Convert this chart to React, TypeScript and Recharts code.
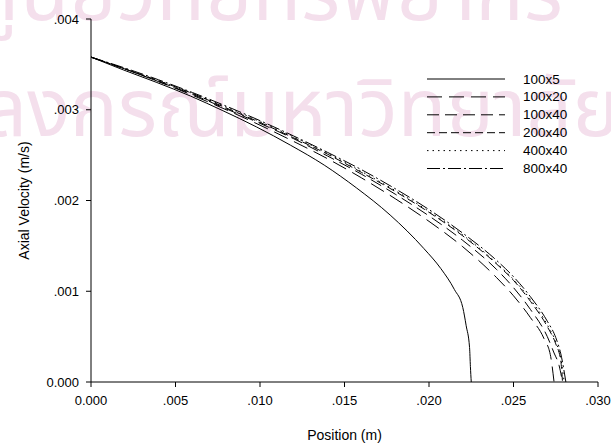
import * as React from "react";
import { LineChart, Line, XAxis, YAxis, Legend } from "recharts";

// grid names, as in the legend
const meshNames = ["100x5", "100x20", "100x40", "200x40", "400x40", "800x40"];

// position (m) and axial velocity (m/s) per mesh
const x100x5 = [0, 0.0019, 0.0039, 0.0059, 0.0078, 0.0098, 0.0118, 0.0138, 0.0157, 0.0177, 0.0197, 0.0207, 0.0215, 0.022, 0.0222, 0.0224, 0.02245, 0.0225];
const v100x5 = [0.00358, 0.00344, 0.0033, 0.00315, 0.00299, 0.00281, 0.00261, 0.00239, 0.00214, 0.00184, 0.00147, 0.00125, 0.00102, 0.00082, 0.00062, 0.00038, 0.00017, 0];

const x100x20 = [0, 0.002, 0.004, 0.006, 0.008, 0.01, 0.012, 0.014, 0.016, 0.018, 0.02, 0.022, 0.024, 0.025, 0.026, 0.0268, 0.0272, 0.0274];
const v100x20 = [0.00358, 0.00345, 0.00331, 0.00316, 0.003, 0.00283, 0.00265, 0.00246, 0.00225, 0.00202, 0.00177, 0.00149, 0.00115, 0.00095, 0.00071, 0.00048, 0.00028, 0];

const x100x40 = [0, 0.002, 0.004, 0.006, 0.008, 0.01, 0.012, 0.014, 0.016, 0.018, 0.02, 0.022, 0.024, 0.025, 0.026, 0.027, 0.0274, 0.0277, 0.0279];
const v100x40 = [0.00358, 0.00345, 0.00331, 0.00317, 0.00301, 0.00285, 0.00268, 0.00249, 0.00229, 0.00207, 0.00183, 0.00156, 0.00124, 0.00104, 0.0008, 0.0005, 0.00032, 0.00018, 0];

const x200x40 = [0, 0.002, 0.004, 0.006, 0.008, 0.01, 0.012, 0.014, 0.016, 0.018, 0.02, 0.022, 0.024, 0.025, 0.026, 0.027, 0.0275, 0.0278, 0.0279];
const v200x40 = [0.00358, 0.00345, 0.00332, 0.00318, 0.00302, 0.00286, 0.00269, 0.00251, 0.00231, 0.0021, 0.00187, 0.00161, 0.0013, 0.00112, 0.00089, 0.00061, 0.00042, 0.00023, 0];

const x400x40 = [0, 0.002, 0.004, 0.006, 0.008, 0.01, 0.012, 0.014, 0.016, 0.018, 0.02, 0.022, 0.024, 0.025, 0.026, 0.027, 0.0275, 0.0278, 0.028];
const v400x40 = [0.00358, 0.00345, 0.00332, 0.00318, 0.00303, 0.00287, 0.0027, 0.00252, 0.00232, 0.00211, 0.00188, 0.00162, 0.00131, 0.00113, 0.00091, 0.00063, 0.00044, 0.00026, 0];

const x800x40 = [0, 0.002, 0.004, 0.006, 0.008, 0.01, 0.012, 0.014, 0.016, 0.018, 0.02, 0.022, 0.024, 0.025, 0.026, 0.027, 0.0275, 0.0278, 0.0281];
const v800x40 = [0.00358, 0.00346, 0.00333, 0.00319, 0.00304, 0.00288, 0.00271, 0.00253, 0.00234, 0.00213, 0.0019, 0.00164, 0.00134, 0.00116, 0.00094, 0.00067, 0.00049, 0.00031, 0];

const xTicks = [0, 0.005, 0.01, 0.015, 0.02, 0.025, 0.03];
const yTicks = [0, 0.001, 0.002, 0.003, 0.004];

const font = "'Liberation Sans', Arial, sans-serif";

const toRows = (xs: number[], vs: number[]) => xs.map((x, i) => ({ x, v: vs[i] }));

const series = [
  { name: meshNames[0], data: toRows(x100x5, v100x5), dash: undefined },
  { name: meshNames[1], data: toRows(x100x20, v100x20), dash: "15 7" },
  { name: meshNames[2], data: toRows(x100x40, v100x40), dash: "12 6" },
  { name: meshNames[3], data: toRows(x200x40, v200x40), dash: "8 4" },
  { name: meshNames[4], data: toRows(x400x40, v400x40), dash: "1.5 4" },
  { name: meshNames[5], data: toRows(x800x40, v800x40), dash: "13 3 2 3" },
];

const fmt = (v: number) => (v === 0 ? "0.000" : v.toFixed(3).replace(/^0/, ""));

function YLabel({ viewBox }: any) {
  const cy = viewBox ? viewBox.y + viewBox.height / 2 : 200;
  return (
    <text
      x={24}
      y={cy}
      transform={`rotate(-90 24 ${cy})`}
      textAnchor="middle"
      dominantBaseline="central"
      fontSize={14}
      fontFamily={font}
      fill="#000"
    >
      Axial Velocity (m/s)
    </text>
  );
}

function MeshLegend() {
  return (
    <svg width={160} height={110}>
      {series.map((s, i) => (
        <g key={s.name}>
          <line x1={0} x2={78} y1={9 + i * 17.9} y2={9 + i * 17.9} stroke="#000" strokeWidth={1} strokeDasharray={s.dash} />
          <text x={96} y={9 + i * 17.9} dominantBaseline="central" fontSize={13.5} fontFamily={font} fill="#000">
            {s.name}
          </text>
        </g>
      ))}
    </svg>
  );
}

export default function App() {
  return (
    <div style={{ position: "absolute", left: 0, top: 0, width: 611, height: 445, background: "#fff", overflow: "hidden" }}>
      {/* faint library watermark behind the chart */}
      <svg width={611} height={445} style={{ position: "absolute", left: 0, top: 0 }}>
        <g fill="#f4dfec" fontFamily="'Noto Sans Thai', 'DejaVu Sans', sans-serif" fontSize={80}>
          <text x={-30} y={20}>ศูนย์วิทยทรัพยากร</text>
          <text x={-147} y={136}>จุฬาลงกรณ์มหาวิทยาลัย</text>
        </g>
      </svg>
      <div style={{ position: "absolute", left: 0, top: 0 }}>
        <LineChart width={611} height={445} margin={{ top: 19, right: 13, bottom: 0, left: 0 }}>
          <XAxis
            dataKey="x"
            type="number"
            domain={[0, 0.03]}
            ticks={xTicks}
            tickFormatter={fmt}
            height={63}
            tickSize={5}
            tickMargin={9}
            stroke="#000"
            tick={{ fill: "#000", fontSize: 13, fontFamily: font }}
            label={{ value: "Position (m)", position: "insideBottom", offset: 5, fill: "#000", fontSize: 14, fontFamily: font }}
          />
          <YAxis
            dataKey="v"
            type="number"
            domain={[0, 0.004]}
            ticks={yTicks}
            tickFormatter={fmt}
            width={91}
            tickSize={5}
            tickMargin={7}
            stroke="#000"
            tick={{ fill: "#000", fontSize: 13, fontFamily: font }}
            label={<YLabel />}
          />
          <Legend
            layout="vertical"
            align="center"
            verticalAlign="middle"
            content={() => <MeshLegend />}
            wrapperStyle={{ left: 427, top: 70, width: 160, height: 110 }}
          />
          {series.map((s) => (
            <Line
              key={s.name}
              name={s.name}
              data={s.data}
              dataKey="v"
              type="monotone"
              stroke="#000"
              strokeWidth={1}
              strokeDasharray={s.dash}
              dot={false}
              activeDot={false}
              isAnimationActive={false}
            />
          ))}
        </LineChart>
      </div>
    </div>
  );
}
